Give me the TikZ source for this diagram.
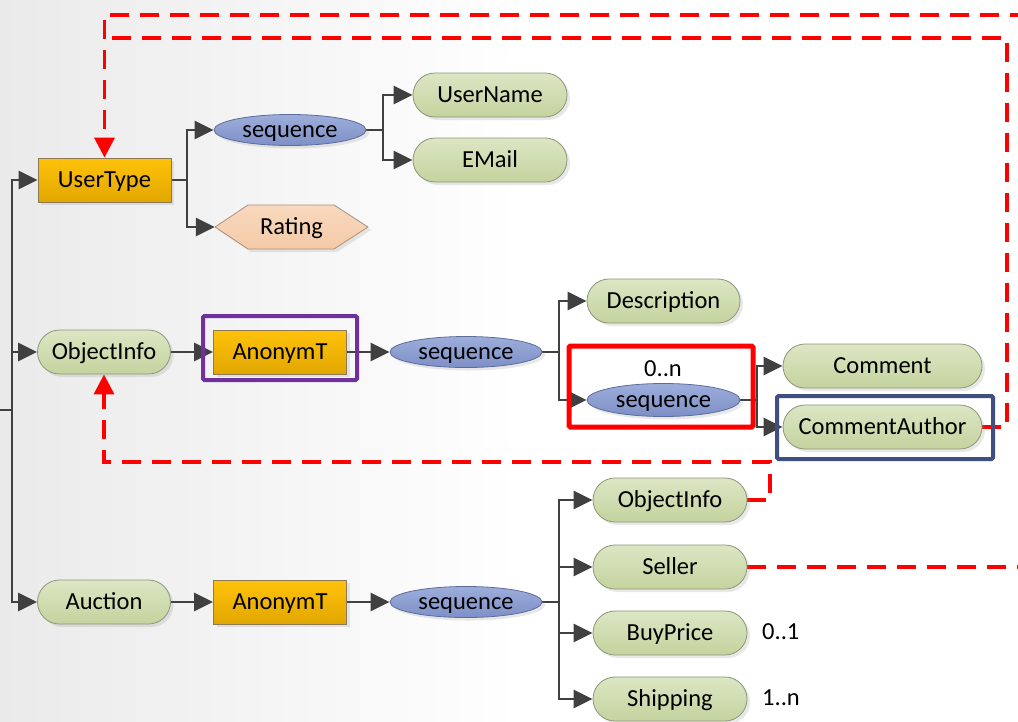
\documentclass[tikz,border=0pt]{standalone}
\usepackage{fontspec}
\setmainfont{Carlito}
\usetikzlibrary{shapes.misc,shapes.geometric,shadows,arrows.meta}

\definecolor{linegrey}{HTML}{404040}
\definecolor{greentop}{HTML}{DCE6C4}
\definecolor{greenbot}{HTML}{C4D39E}
\definecolor{greenedge}{HTML}{8E9678}
\definecolor{seqtop}{HTML}{9DADDB}
\definecolor{seqbot}{HTML}{7D90C6}
\definecolor{seqedge}{HTML}{5C6C9C}
\definecolor{typetop}{HTML}{FFC20A}
\definecolor{typebot}{HTML}{E2A700}
\definecolor{typeedge}{HTML}{8A7A58}
\definecolor{peachtop}{HTML}{F9D8BD}
\definecolor{peachbot}{HTML}{F4CAA8}
\definecolor{peachedge}{HTML}{A89080}
\definecolor{refred}{HTML}{FF0000}
\definecolor{framepurple}{HTML}{7030A0}
\definecolor{frameblue}{HTML}{3F4F7F}
\definecolor{bggrey}{HTML}{EAEAEA}

\pgfdeclarelayer{bg}
\pgfdeclarelayer{lines}
\pgfsetlayers{bg,lines,main}

\tikzset{
  every node/.style={font=\fontsize{24.5}{28}\selectfont, text=black,
    inner sep=0pt, text height=18.4pt, text depth=3.4pt},
  softshadow/.style={drop shadow={opacity=0.18, shadow xshift=3pt, shadow yshift=-3pt}},
  elem/.style={rounded rectangle, draw=greenedge, line width=0.8pt,
    top color=greentop, bottom color=greenbot, minimum height=44pt,
    minimum width=#1, softshadow},
  elem/.default=133pt,
  seqnode/.style={ellipse, draw=seqedge, line width=0.8pt,
    top color=seqtop, bottom color=seqbot, minimum width=152pt,
    minimum height=31pt, softshadow},
  typenode/.style={rectangle, draw=typeedge, line width=0.8pt,
    top color=typetop, bottom color=typebot, minimum width=133pt,
    minimum height=44pt, softshadow},
  hexshape/.style={draw=peachedge, line width=0.8pt, top color=peachtop,
    bottom color=peachbot},
  conn/.style={draw=linegrey, line width=2.8pt},
  arr/.style={conn, -{Triangle[length=19pt,width=18pt]}},
  refline/.style={draw=refred, line width=3.4pt, dash pattern=on 19pt off 11pt},
  reftip/.style={-{Triangle[length=20pt,width=20pt]}},
  frameline/.style={line width=#1, rounded corners=1.5pt},
}

\begin{document}
\begin{tikzpicture}[x=1pt, y=-1pt]
\useasboundingbox (0,0) rectangle (1018,721);
\clip (0,0) rectangle (1018,721);

% page background
\begin{pgfonlayer}{bg}
  \shade[left color=bggrey, right color=white] (0,0) rectangle (520,721);
  \fill[white] (520,0) rectangle (1018,721);
\end{pgfonlayer}

% UserType branch
\node[typenode] (usertype) at (104.5,180) {UserType};
\node[seqnode] (seqU) at (290,130) {sequence};
\path[hexshape, softshadow] (215,227) -- (248,205) -- (334,205) -- (368,227) -- (334,249) -- (248,249) -- cycle;
\node[minimum width=153pt, minimum height=44pt] (rating) at (291.5,227) {Rating};
\node[elem=154pt] (username) at (490,95) {UserName};
\node[elem=154pt] (email) at (490,160) {EMail};

% ObjectInfo branch
\node[elem] (objinfo) at (104,352) {ObjectInfo};
\node[typenode] (anonO) at (280,352) {AnonymT};
\node[seqnode] (seqO) at (466,352) {sequence};
\node[elem=153pt] (descr) at (663.5,301) {Description};
\node (occC) at (663,369) {0..n};
\node[seqnode, minimum width=153pt, minimum height=33pt] (seqC) at (663.5,400) {sequence};
\node[elem=199pt] (comment) at (882.5,366) {Comment};
\node[elem=199pt] (cauthor) at (882.5,427) {CommentAuthor};

% Auction branch
\node[elem] (auction) at (104,602) {Auction};
\node[typenode] (anonA) at (280,602) {AnonymT};
\node[seqnode] (seqA) at (466,602) {sequence};
\node[elem=154pt] (objinfoA) at (670,500) {ObjectInfo};
\node[elem=154pt] (seller) at (670,567) {Seller};
\node[elem=154pt] (buyprice) at (670,633) {BuyPrice};
\node[elem=154pt] (shipping) at (670,699) {Shipping};
\node[anchor=west] (occB) at (762,632) {0..1};
\node[anchor=west] (occS) at (762,698) {1..n};

% highlight frames
\draw[framepurple, frameline=4pt] (203,316) rectangle (357,380);
\draw[refred, frameline=5pt] (569,346) rectangle (753,427);
\draw[frameblue, frameline=4pt] (777,396) rectangle (993,459);

% junction columns
\coordinate (root) at (0,410);
\coordinate (tx) at (12,0);
\coordinate (jU) at (187,0);
\coordinate (jN) at (383,0);
\coordinate (jO) at (559,0);
\coordinate (jC) at (757,0);
\coordinate (jA) at (559,0);
% reference line waypoints
\coordinate (topA) at (0,15);
\coordinate (topB) at (0,38);
\coordinate (rx) at (1007,0);
\coordinate (mx) at (770,0);
\coordinate (low) at (0,462);

\begin{pgfonlayer}{lines}
  % root trunk
  \draw[conn] (root) -- (tx |- root);
  \draw[arr] (tx |- root) |- (usertype.west);
  \draw[arr] (tx |- root) |- (auction.west);
  \draw[arr] (tx |- objinfo.west) -- (objinfo.west);

  % UserType
  \draw[conn] (usertype.east) -- (jU |- usertype.east);
  \draw[arr] (jU |- usertype.east) |- (seqU.west);
  \draw[arr] (jU |- usertype.east) |- (rating.west);
  \draw[conn] (seqU.east) -- (jN |- seqU.east);
  \draw[arr] (jN |- seqU.east) |- (username.west);
  \draw[arr] (jN |- seqU.east) |- (email.west);

  % ObjectInfo
  \draw[arr] (objinfo.east) -- (anonO.west);
  \draw[arr] (anonO.east) -- (seqO.west);
  \draw[conn] (seqO.east) -- (jO |- seqO.east);
  \draw[arr] (jO |- seqO.east) |- (descr.west);
  \draw[arr] (jO |- seqO.east) |- (seqC.west);
  \draw[conn] (seqC.east) -- (jC |- seqC.east);
  \draw[arr] (jC |- seqC.east) |- (comment.west);
  \draw[arr] (jC |- seqC.east) |- (cauthor.west);

  % Auction
  \draw[arr] (auction.east) -- (anonA.west);
  \draw[arr] (anonA.east) -- (seqA.west);
  \draw[conn] (seqA.east) -- (jA |- seqA.east);
  \draw[arr] (jA |- seqA.east) |- (objinfoA.west);
  \draw[arr] (jA |- seqA.east) |- (seller.west);
  \draw[arr] (jA |- seqA.east) |- (buyprice.west);
  \draw[arr] (jA |- seqA.east) |- (shipping.west);

  % type references
  \draw[refline, reftip] (seller.east) -- ++(300,0) |- (usertype.north |- topA) -- (usertype.north);
  \draw[refline] (cauthor.east) -- (rx |- cauthor.east) |- (usertype.north |- topB);
  \draw[refline, reftip] (objinfoA.east) -- (mx |- objinfoA.east) |- (objinfo.south |- low) -- (objinfo.south);
\end{pgfonlayer}
\end{tikzpicture}
\end{document}
